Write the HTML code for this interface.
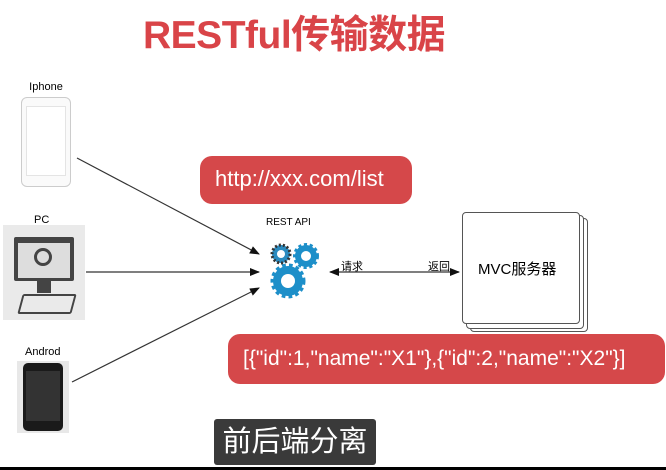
<!DOCTYPE html>
<html><head><meta charset="utf-8"><style>
body{margin:0;width:666px;height:470px;background:#fff;position:relative;overflow:hidden;font-family:"Liberation Sans","Noto Sans CJK SC",sans-serif}
.a{position:absolute}
.red{background:#d5484a;border-radius:12px;color:#fff;font-size:22px;box-sizing:border-box}
</style></head><body>
<div class="a" style="left:143px;top:4px;color:#d94448;font-weight:bold;font-size:39px;letter-spacing:-0.5px;white-space:nowrap">RESTful传输数据</div>

<div class="a" style="left:22px;top:81px;font-size:11px;width:48px;text-align:center">Iphone</div>
<div class="a" style="left:21px;top:97px;width:48px;height:88px;border:1px solid #ccc;border-radius:6px;background:#fafafa"></div>
<div class="a" style="left:26px;top:106px;width:38px;height:68px;background:#fff;border:1px solid #e4e4e4"></div>

<div class="a" style="left:34px;top:214px;font-size:11px">PC</div>
<div class="a" style="left:3px;top:225px;width:82px;height:95px;background:#eaeaea"></div>
<div class="a" style="left:14px;top:237px;width:60px;height:44px;background:#444;border-radius:2px"></div>
<div class="a" style="left:18px;top:243px;width:52px;height:35px;background:#ddd"></div>
<div class="a" style="left:34px;top:248px;width:12px;height:12px;border:3px solid #444;border-radius:50%"></div>
<div class="a" style="left:37px;top:281px;width:14px;height:12px;background:#444"></div>
<div class="a" style="left:20px;top:294px;width:50px;height:16px;border:2px solid #444;border-radius:2px;transform:skewX(-15deg)"></div>

<div class="a" style="left:25px;top:346px;font-size:11px">Androd</div>
<div class="a" style="left:17px;top:361px;width:52px;height:72px;background:#e8e8e8"></div>
<div class="a" style="left:23px;top:363px;width:40px;height:68px;background:#1a1a1a;border-radius:5px"></div>
<div class="a" style="left:26px;top:371px;width:34px;height:50px;background:#333"></div>

<svg class="a" style="left:0;top:0" width="666" height="470">
<defs><marker id="m" markerWidth="10" markerHeight="8" refX="9" refY="4" orient="auto" markerUnits="userSpaceOnUse"><path d="M0,0L10,4L0,8z" fill="#111"/></marker></defs>
<g stroke="#333" stroke-width="1.2" fill="none">
<line x1="77" y1="158" x2="259" y2="254" marker-end="url(#m)"/>
<line x1="86" y1="272" x2="259" y2="272" marker-end="url(#m)"/>
<line x1="72" y1="382" x2="259" y2="288" marker-end="url(#m)"/>
<line x1="330" y1="272" x2="459" y2="272" marker-start="url(#m2)" marker-end="url(#m)"/>
</g>
<path d="M339,268L329,272L339,276z" fill="#111"/>
<g fill="#1d8fc9">
<circle cx="281" cy="254" r="9" stroke="#333" stroke-width="3" stroke-dasharray="2 2" fill="#2a8bc0"/><circle cx="281" cy="254" r="4" fill="#fff"/>
<circle cx="306" cy="256" r="11" stroke="#1d8fc9" stroke-width="4" stroke-dasharray="3 2.5" fill="#1d8fc9"/><circle cx="306" cy="256" r="5" fill="#fff"/>
<circle cx="288" cy="281" r="15" stroke="#1d8fc9" stroke-width="5" stroke-dasharray="3.5 3" fill="#1d8fc9"/><circle cx="288" cy="281" r="7" fill="#fff"/>
</g>
</svg>
<div class="a" style="left:266px;top:217px;font-size:10px">REST API</div>
<div class="a" style="left:341px;top:258px;font-size:11px">请求</div>
<div class="a" style="left:428px;top:258px;font-size:11px">返回</div>

<div class="a" style="left:470px;top:218px;width:116px;height:112px;border:1px solid #555;border-radius:4px;background:#fff"></div>
<div class="a" style="left:466px;top:215px;width:116px;height:112px;border:1px solid #555;border-radius:4px;background:#fff"></div>
<div class="a" style="left:462px;top:212px;width:116px;height:110px;border:1px solid #555;border-radius:4px;background:#fff"></div>
<div class="a" style="left:478px;top:258px;font-size:15px">MVC服务器</div>

<div class="a red" style="left:200px;top:156px;width:212px;height:48px;padding:10px 0 0 15px">http://xxx.com/list</div>
<div class="a red" style="left:228px;top:334px;width:437px;height:50px;padding:13px 0 0 15px;font-size:21px">[{"id":1,"name":"X1"},{"id":2,"name":"X2"}]</div>

<div class="a" style="left:214px;top:419px;width:162px;height:46px;background:#3a3a3a;border-radius:3px;color:#fff;font-size:29px;text-align:center;line-height:46px">前后端分离</div>
<div class="a" style="left:0;top:467px;width:666px;height:3px;background:#000"></div>
</body></html>
